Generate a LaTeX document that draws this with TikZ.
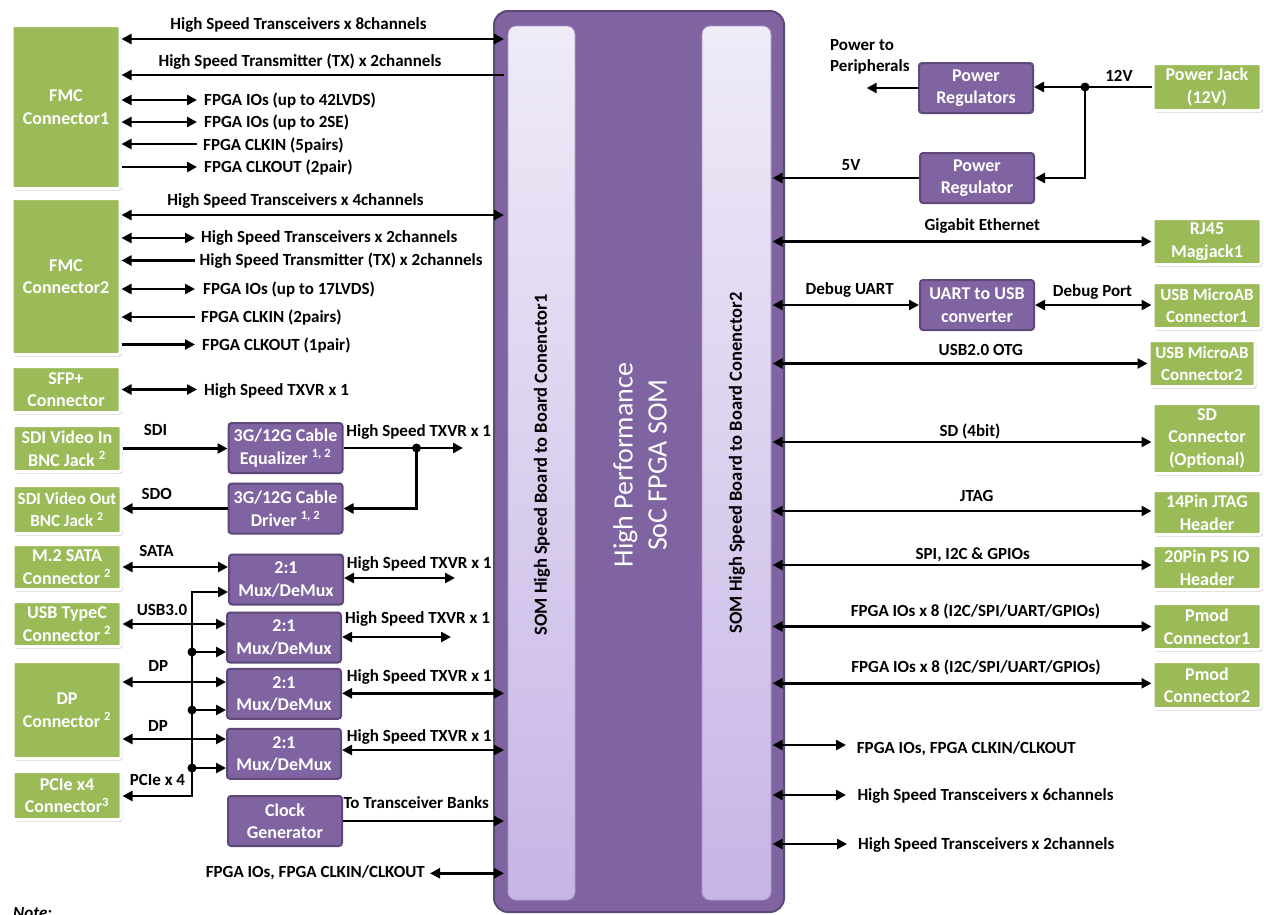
\documentclass[tikz,border=0pt]{standalone}
\usepackage{fontspec}
\setmainfont{Carlito}
\usepackage{tikz}
\usetikzlibrary{arrows.meta,shadows}

\definecolor{somGreen}{RGB}{155,187,89}
\definecolor{somPurple}{RGB}{128,100,162}
\definecolor{somPurpleDark}{RGB}{94,72,122}
\definecolor{stripTop}{RGB}{239,235,247}
\definecolor{stripBottom}{RGB}{199,181,230}
\definecolor{stripEdge}{RGB}{170,150,202}

\tikzset{
  conn/.style={line width=2.8pt},
  dbl/.style={conn, {Triangle[length=10pt,width=10pt]}-{Triangle[length=10pt,width=10pt]}},
  fwd/.style={conn, -{Triangle[length=10pt,width=10pt]}},
  lbl/.style={font=\bfseries\fontsize{17}{20}\selectfont, inner sep=0pt},
  grnbox/.style={fill=somGreen, draw=white, line width=3pt, rounded corners=2pt,
    drop shadow={shadow xshift=1.5pt, shadow yshift=-2pt, opacity=0.4},
    text=white, font=\bfseries\fontsize{18}{22.5}\selectfont, align=center,
    inner sep=0pt, minimum width=108, minimum height=#1},
  grnbox/.default=46,
  purbox/.style={fill=somPurple, draw=somPurpleDark, line width=2pt, rounded corners=3pt,
    text=white, font=\bfseries\fontsize{18}{22.5}\selectfont, align=center,
    inner sep=0pt, minimum width=114, minimum height=50},
  strip/.style={top color=stripTop, bottom color=stripBottom, draw=stripEdge, line width=0.8pt,
    rounded corners=8pt, minimum height=874, inner sep=0pt}
}

\begin{document}
\begin{tikzpicture}[x=1pt,y=1pt,yscale=-1,xscale=1]
\useasboundingbox (0,0) rectangle (1264,914);

% SOM
\draw (639,461.5) node [fill=somPurple, draw=somPurpleDark, line width=2pt, rounded corners=14pt, minimum width=290, minimum height=901] (som) {};
\draw (541.5,463) node [strip, minimum width=67, outer sep=4pt] (stripA) {};
\draw (736.5,463) node [strip, minimum width=69, outer sep=1.5pt] (stripB) {};
% Text Node
\draw (542,465) node [rotate=90, font=\bfseries\fontsize{18.5}{22}\selectfont] (stripAText) {SOM High Speed Board to Board Conenctor1};
\draw (737,463) node [rotate=90, font=\bfseries\fontsize{18.5}{22}\selectfont] (stripBText) {SOM High Speed Board to Board Conenctor2};
\draw (640,465) node [rotate=90, text=white, align=center, font=\fontsize{28}{34}\selectfont] (somText) {High Performance\\SoC FPGA SOM};

% Left connectors
\draw (66,107) node [grnbox=163] (fmcA) {FMC\\Connector1};
\draw (66,276.5) node [grnbox=156] (fmcB) {FMC\\Connector2};
\draw (66,389.5) node [grnbox] (sfp) {SFP+\\Connector};
\draw (67,448.5) node [grnbox] (sdiIn) {SDI Video In\\BNC Jack \textsuperscript{2}};
\draw (67,509.5) node [grnbox=48, font=\bfseries\fontsize{17}{22.5}\selectfont] (sdiOut) {SDI Video Out\\BNC Jack \textsuperscript{2}};
\draw (67,567) node [grnbox=45] (m2) {M.2 SATA\\Connector \textsuperscript{2}};
\draw (67,624) node [grnbox=45] (usbc) {USB TypeC\\Connector \textsuperscript{2}};
\draw (67,710) node [grnbox=97] (dp) {DP\\Connector \textsuperscript{2}};
\draw (67,795.5) node [grnbox=48] (pcie) {PCIe x4\\Connector\textsuperscript{3}};

% Left blocks
\draw (285.5,448) node [purbox] (eq) {3G/12G Cable\\Equalizer \textsuperscript{1, 2}};
\draw (285.5,508.5) node [purbox] (drv) {3G/12G Cable\\Driver \textsuperscript{1, 2}};
\draw (286,579.5) node [purbox] (muxA) {2:1\\Mux/DeMux};
\draw (284,637.5) node [purbox] (muxB) {2:1\\Mux/DeMux};
\draw (284,693.8) node [purbox] (muxC) {2:1\\Mux/DeMux};
\draw (284,753.8) node [purbox] (muxD) {2:1\\Mux/DeMux};
\draw (285,821) node [purbox] (clk) {Clock\\Generator};

% Right connectors
\draw (1207,87) node [grnbox=47] (pwrJack) {Power Jack\\(12V)};
\draw (1207,241.5) node [grnbox] (rj45) {RJ45\\Magjack1};
\draw (1207,305.5) node [grnbox, font=\bfseries\fontsize{17}{22.5}\selectfont] (usbA) {USB MicroAB\\Connector1};
\draw (1202,363.5) node [grnbox, minimum width=106, font=\bfseries\fontsize{17}{22.5}\selectfont] (usbB) {USB MicroAB\\Connector2};
\draw (1207,438.5) node [grnbox=70] (sd) {SD\\Connector\\(Optional)};
\draw (1207,512.5) node [grnbox=44] (jtag) {14Pin JTAG\\Header};
\draw (1207,567.5) node [grnbox=44] (psio) {20Pin PS IO\\Header};
\draw (1207,626.5) node [grnbox] (pmodA) {Pmod\\Connector1};
\draw (1207,685) node [grnbox=47] (pmodB) {Pmod\\Connector2};

% Right blocks
\draw (976,88) node [purbox] (regA) {Power\\Regulators};
\draw (977,178) node [purbox] (regB) {Power\\Regulator};
\draw (977,305) node [purbox] (uart) {UART to USB\\converter};

% Free ends
\coordinate (fmcAio) at (197,100);
\coordinate (fmcAse) at (197,122);
\coordinate (fmcAck) at (197,144);
\coordinate (fmcAco) at (197,167);
\coordinate (fmcBhs) at (195,238);
\coordinate (fmcBtx) at (195,260.5);
\coordinate (fmcBio) at (195,289);
\coordinate (fmcBck) at (195,317);
\coordinate (fmcBco) at (195,344.5);
\coordinate (sfpEnd) at (197,389.5);
\coordinate (eqOut) at (463,448);
\coordinate (eqJn) at (416.5,448);
\coordinate (muxAOut) at (455,578);
\coordinate (muxBOut) at (451,637);
\coordinate (busTop) at (192,592);
\coordinate (busBot) at (192,796);
\coordinate (busB) at (192,652);
\coordinate (busC) at (192,710);
\coordinate (busD) at (192,768);
\coordinate (ioLeft) at (430,873.3);
\coordinate (pwrJn) at (1085,87);
\coordinate (pwrOut) at (866.7,88);
\coordinate (ioRight) at (846,745);
\coordinate (hsSix) at (846,795);
\coordinate (hsTwo) at (847,844);

% Connection
\draw [dbl] (fmcA.east |- 0,39) -- (stripA.west |- 0,39);
% Text Node
\draw (298.5,29) node [lbl, anchor=base] (lHs8) {High Speed Transceivers x 8channels};
% Connection
\draw [fwd] (stripA.west |- 0,75) -- (fmcA.east |- 0,75);
% Text Node
\draw (300,66) node [lbl, anchor=base] (lTx2) {High Speed Transmitter (TX) x 2channels};
% Connection
\draw [dbl] (fmcA.east |- fmcAio) -- (fmcAio);
\draw [dbl] (fmcA.east |- fmcAse) -- (fmcAse);
\draw [fwd] (fmcAck) -- (fmcA.east |- fmcAck);
\draw [fwd] (fmcA.east |- fmcAco) -- (fmcAco);
% Text Node
\draw (204,105) node [lbl, anchor=base west] (lIoA) {FPGA IOs (up to 42LVDS)};
\draw (204,127) node [lbl, anchor=base west] (lSeA) {FPGA IOs (up to 2SE)};
\draw (203,150) node [lbl, anchor=base west] (lCkA) {FPGA CLKIN (5pairs)};
\draw (204,172) node [lbl, anchor=base west] (lCoA) {FPGA CLKOUT (2pair)};

% Connection
\draw [dbl] (fmcB.east |- 0,215) -- (stripA.west |- 0,215);
% Text Node
\draw (295.5,205) node [lbl, anchor=base] (lHs4) {High Speed Transceivers x 4channels};
% Connection
\draw [dbl] (fmcB.east |- fmcBhs) -- (fmcBhs);
\draw [fwd] (fmcBtx) -- (fmcB.east |- fmcBtx);
\draw [dbl] (fmcB.east |- fmcBio) -- (fmcBio);
\draw [fwd] (fmcBck) -- (fmcB.east |- fmcBck);
\draw [fwd] (fmcB.east |- fmcBco) -- (fmcBco);
% Text Node
\draw (201,242.7) node [lbl, anchor=base west] (lHsB) {High Speed Transceivers x 2channels};
\draw (199.5,265) node [lbl, anchor=base west] (lTxB) {High Speed Transmitter (TX) x 2channels};
\draw (203,294) node [lbl, anchor=base west] (lIoB) {FPGA IOs (up to 17LVDS)};
\draw (201,322.3) node [lbl, anchor=base west] (lCkB) {FPGA CLKIN (2pairs)};
\draw (202,350) node [lbl, anchor=base west] (lCoB) {FPGA CLKOUT (1pair)};

% Connection
\draw [dbl] (sfp.east |- sfpEnd) -- (sfpEnd);
% Text Node
\draw (204,395) node [lbl, anchor=base west] (lSfp) {High Speed TXVR x 1};

% Connection
\draw [fwd] (sdiIn.east) -- (eq.west |- sdiIn.east);
\draw [fwd] (eq.east) -- (eqOut);
\draw [fwd] (eqJn) |- (drv.east);
\fill (eqJn) circle (4.5);
\draw [fwd] (drv.west) -- (sdiOut.east |- drv.west);
% Text Node
\draw (155.5,435) node [lbl, anchor=base] (lSdi) {SDI};
\draw (418.7,436.7) node [lbl, anchor=base] (lEq) {High Speed TXVR x 1};
\draw (156.7,499.3) node [lbl, anchor=base] (lSdo) {SDO};

% Connection
\draw [dbl] (m2.east) -- (muxA.west |- m2.east);
\draw [dbl] (muxA.east |- muxAOut) -- (muxAOut);
\draw [dbl] (usbc.east) -- (muxB.west |- usbc.east);
\draw [dbl] (muxB.east |- muxBOut) -- (muxBOut);
\draw [dbl] (dp.east |- 0,682) -- (muxC.west |- 0,682);
\draw [dbl] (muxC.east |- 0,693.3) -- (stripA.west |- 0,693.3);
\draw [dbl] (dp.east |- 0,739) -- (muxD.west |- 0,739);
\draw [dbl] (muxD.east |- 0,750) -- (stripA.west |- 0,750);
% Text Node
\draw (156.5,556.7) node [lbl, anchor=base] (lSata) {SATA};
\draw (346.7,568.3) node [lbl, anchor=base west] (lMuxA) {High Speed TXVR x 1};
\draw (162,615) node [lbl, anchor=base] (lUsb) {USB3.0};
\draw (345,623.3) node [lbl, anchor=base west] (lMuxB) {High Speed TXVR x 1};
\draw (158.3,671.7) node [lbl, anchor=base] (lDpA) {DP};
\draw (346.7,681.7) node [lbl, anchor=base west] (lMuxC) {High Speed TXVR x 1};
\draw (158,731.7) node [lbl, anchor=base] (lDpB) {DP};
\draw (346.7,741.7) node [lbl, anchor=base west] (lMuxD) {High Speed TXVR x 1};

% Connection
\draw [dbl] (muxA.west |- busTop) -- (busTop) -- (busBot) -- (pcie.east |- busBot);
\draw [fwd] (busB) -- (muxB.west |- busB);
\draw [fwd] (busC) -- (muxC.west |- busC);
\draw [fwd] (busD) -- (muxD.west |- busD);
\fill (busB) circle (4.5);
\fill (busC) circle (4.5);
\fill (busD) circle (4.5);
% Text Node
\draw (157.5,785) node [lbl, anchor=base] (lPcie) {PCIe x 4};

% Connection
\draw [fwd] (clk.east) -- (stripA.west |- clk.east);
\draw [dbl] (ioLeft) -- (stripA.west |- ioLeft);
% Text Node
\draw (343.3,808.3) node [lbl, anchor=base west] (lClk) {To Transceiver Banks};
\draw (425,877.3) node [lbl, anchor=base east] (lIoL) {FPGA IOs, FPGA CLKIN/CLKOUT};
\draw (13,918) node [lbl, anchor=base west, font=\bfseries\itshape\fontsize{17}{20}\selectfont] (lNote) {Note:};

% Connection
\draw [fwd] (pwrJack.west) -- (regA.east |- pwrJack.west);
\draw [fwd] (pwrJn) |- (regB.east);
\fill (pwrJn) circle (4.5);
\draw [fwd] (regA.west) -- (pwrOut);
\draw [fwd] (regB.west) -- (stripB.east |- regB.west);
% Text Node
\draw (1119,81.7) node [lbl, anchor=base] (l12v) {12V};
\draw (830,39.5) node [lbl, anchor=north west, align=left, font=\bfseries\fontsize{17}{21}\selectfont] (lPwr) {Power to\\Peripherals};
\draw (851,170.7) node [lbl, anchor=base] (l5v) {5V};

% Connection
\draw [dbl] (stripB.east |- rj45.west) -- (rj45.west);
\draw [dbl] (stripB.east |- uart.west) -- (uart.west);
\draw [dbl] (uart.east) -- (usbA.west |- uart.east);
\draw [dbl] (stripB.east |- usbB.west) -- (usbB.west);
\draw [dbl] (stripB.east |- 0,442) -- (sd.west |- 0,442);
\draw [dbl] (stripB.east |- 0,511) -- (jtag.west |- 0,511);
\draw [dbl] (stripB.east |- 0,565) -- (psio.west |- 0,565);
\draw [dbl] (stripB.east |- pmodA.west) -- (pmodA.west);
\draw [dbl] (stripB.east |- 0,683.3) -- (pmodB.west |- 0,683.3);
% Text Node
\draw (982.3,230) node [lbl, anchor=base] (lEth) {Gigabit Ethernet};
\draw (849.7,294.3) node [lbl, anchor=base] (lUart) {Debug UART};
\draw (1092.5,296.5) node [lbl, anchor=base] (lDbg) {Debug Port};
\draw (980.8,355) node [lbl, anchor=base] (lOtg) {USB2.0 OTG};
\draw (970,436) node [lbl, anchor=base] (lSd) {SD (4bit)};
\draw (976.7,501.7) node [lbl, anchor=base] (lJtag) {JTAG};
\draw (972.8,559) node [lbl, anchor=base] (lSpi) {SPI, I2C \& GPIOs};
\draw (975.5,616.7) node [lbl, anchor=base] (lPmodA) {FPGA IOs x 8 (I2C/SPI/UART/GPIOs)};
\draw (976,672.7) node [lbl, anchor=base] (lPmodB) {FPGA IOs x 8 (I2C/SPI/UART/GPIOs)};

% Connection
\draw [dbl] (stripB.east |- ioRight) -- (ioRight);
\draw [dbl] (stripB.east |- hsSix) -- (hsSix);
\draw [dbl] (stripB.east |- hsTwo) -- (hsTwo);
% Text Node
\draw (856.7,753.3) node [lbl, anchor=base west] (lIoR) {FPGA IOs, FPGA CLKIN/CLKOUT};
\draw (857.3,800) node [lbl, anchor=base west] (lHs6) {High Speed Transceivers x 6channels};
\draw (858,849) node [lbl, anchor=base west] (lHs2) {High Speed Transceivers x 2channels};
\end{tikzpicture}
\end{document}
